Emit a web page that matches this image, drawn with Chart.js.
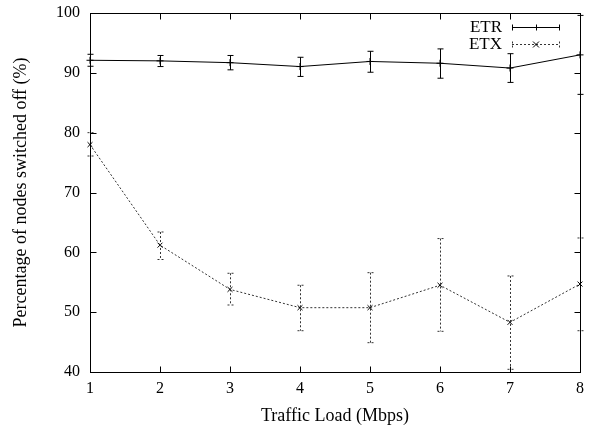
<!DOCTYPE html>
<html>
<head>
<meta charset="utf-8">
<script src="https://cdn.jsdelivr.net/npm/chart.js@4.4.0/dist/chart.umd.min.js"></script>
<style>
  html, body { margin: 0; padding: 0; background: #fff; }
</style>
</head>
<body>
<canvas id="chart" width="589" height="433"></canvas>
<script>
// traffic load (Mbps)
const loads = [1, 2, 3, 4, 5, 6, 7, 8];

// ETR: mean and error bar ends
const etrMean = [92.1, 92.0, 91.7, 91.05, 91.9, 91.6, 90.8, 93.0];
const etrLow  = [91.1, 91.05, 90.5, 89.4, 90.1, 89.1, 88.4, 86.4];
const etrHigh = [93.1, 92.9, 92.9, 92.6, 93.6, 94.0, 93.2, 99.6];

// ETX: mean and error bar ends
const etxMean = [78.0, 61.2, 53.8, 50.75, 50.75, 54.5, 48.3, 54.7];
const etxLow  = [76.1, 58.8, 51.2, 46.9, 44.9, 46.8, 40.45, 46.9];
const etxHigh = [80.0, 63.4, 56.5, 54.5, 56.6, 62.3, 56.05, 62.4];

const yTicks = [40, 50, 60, 70, 80, 90, 100];
const xTicks = loads;

const FONT = "'Liberation Serif', 'DejaVu Serif', serif";
Chart.defaults.font.family = FONT;
Chart.defaults.font.size = 16;
Chart.defaults.color = "#000";

const toPoints = (xs, ys) => xs.map((x, i) => ({ x: x, y: ys[i] }));

// drop the scale's own label padding so the plot box sits where the layout padding says
const noScalePadding = s => {
  s.paddingTop = 0; s.paddingBottom = 0;
  s.paddingLeft = 0; s.paddingRight = 0;
};

// error bars, frame with inward ticks, legend
const gnuplotLook = {
  id: "gnuplotLook",
  afterDatasetsDraw(chart) {
    const ctx = chart.ctx;
    const xs = chart.scales.x, ys = chart.scales.y;
    const area = chart.chartArea;

    chart.data.datasets.forEach(ds => {
      ctx.save();
      ctx.strokeStyle = ds.borderColor;
      ctx.lineWidth = 1;
      ctx.setLineDash(ds.borderDash || []);
      ds.data.forEach((p, i) => {
        const px = Math.round(xs.getPixelForValue(p.x)) + 0.5;
        const top = ys.getPixelForValue(ds.errHigh[i]);
        const bot = ys.getPixelForValue(ds.errLow[i]);
        ctx.beginPath();
        ctx.moveTo(px, top); ctx.lineTo(px, bot);
        ctx.moveTo(px - 3, top); ctx.lineTo(px + 3, top);
        ctx.moveTo(px - 3, bot); ctx.lineTo(px + 3, bot);
        ctx.stroke();
      });
      ctx.restore();
    });

    // frame
    ctx.save();
    ctx.strokeStyle = "#000";
    ctx.lineWidth = 1;
    const L = Math.round(area.left) + 0.5, R = Math.round(area.right) + 0.5;
    const T = Math.round(area.top) + 0.5, B = Math.round(area.bottom) + 0.5;
    ctx.strokeRect(L, T, R - L, B - T);
    ctx.beginPath();
    yTicks.forEach(v => {
      const py = Math.round(ys.getPixelForValue(v)) + 0.5;
      ctx.moveTo(L, py); ctx.lineTo(L + 6, py);
      ctx.moveTo(R, py); ctx.lineTo(R - 6, py);
    });
    xTicks.forEach(v => {
      const px = Math.round(xs.getPixelForValue(v)) + 0.5;
      ctx.moveTo(px, B); ctx.lineTo(px, B - 6);
      ctx.moveTo(px, T); ctx.lineTo(px, T + 6);
    });
    ctx.stroke();
    ctx.restore();

    // legend
    ctx.save();
    ctx.font = "17px " + FONT;
    ctx.fillStyle = "#000";
    ctx.textAlign = "right";
    ctx.textBaseline = "middle";
    const x0 = 512, x1 = 560, xm = 536;
    chart.data.datasets.forEach((ds, k) => {
      const y = 28 + k * 16.5;
      ctx.fillText(ds.label, 502, y);
      const yy = Math.round(y) - 0.5;
      ctx.strokeStyle = ds.borderColor;
      ctx.lineWidth = 1;
      ctx.setLineDash(ds.borderDash || []);
      ctx.beginPath();
      ctx.moveTo(x0, yy); ctx.lineTo(x1, yy);
      ctx.moveTo(x0 + 0.5, yy - 3); ctx.lineTo(x0 + 0.5, yy + 3);
      ctx.moveTo(x1 - 0.5, yy - 3); ctx.lineTo(x1 - 0.5, yy + 3);
      ctx.stroke();
      ctx.setLineDash([]);
      ctx.strokeStyle = "#000";
      ctx.beginPath();
      if (ds.pointStyle === "cross") {
        ctx.moveTo(xm - 3, yy); ctx.lineTo(xm + 3, yy);
        ctx.moveTo(xm + 0.5, yy - 3); ctx.lineTo(xm + 0.5, yy + 3);
      } else {
        ctx.moveTo(xm - 3, yy - 3); ctx.lineTo(xm + 3, yy + 3);
        ctx.moveTo(xm - 3, yy + 3); ctx.lineTo(xm + 3, yy - 3);
      }
      ctx.stroke();
    });
    ctx.restore();
  }
};

new Chart(document.getElementById("chart").getContext("2d"), {
  type: "line",
  data: {
    datasets: [
      {
        label: "ETR",
        data: toPoints(loads, etrMean),
        errLow: etrLow,
        errHigh: etrHigh,
        borderColor: "#000",
        borderWidth: 1,
        pointStyle: "cross",
        pointRadius: 3.5,
        pointBorderColor: "#000",
        pointBorderWidth: 1,
        tension: 0,
        clip: false
      },
      {
        label: "ETX",
        data: toPoints(loads, etxMean),
        errLow: etxLow,
        errHigh: etxHigh,
        borderColor: "#333",
        borderWidth: 1,
        borderDash: [2, 2],
        pointStyle: "crossRot",
        pointRadius: 3.5,
        pointBorderColor: "#000",
        pointBorderWidth: 1,
        tension: 0,
        clip: false
      }
    ]
  },
  options: {
    responsive: false,
    animation: false,
    events: [],
    layout: { padding: { top: 13, right: 9, left: 0, bottom: 0 } },
    plugins: {
      legend: { display: false },
      tooltip: { enabled: false }
    },
    scales: {
      x: {
        type: "linear",
        min: 1,
        max: 8,
        afterFit: s => { s.height = 61; noScalePadding(s); },
        grid: { display: false, drawTicks: false },
        border: { display: false },
        ticks: { stepSize: 1, padding: 7, maxRotation: 0 },
        title: {
          display: true,
          text: "Traffic Load (Mbps)",
          font: { size: 18 },
          padding: { top: 0, bottom: 6 }
        }
      },
      y: {
        min: 40,
        max: 100,
        afterFit: s => { s.width = 90; noScalePadding(s); },
        grid: { display: false, drawTicks: false },
        border: { display: false },
        ticks: { stepSize: 10, padding: 10 },
        title: {
          display: true,
          text: "Percentage of nodes switched off (%)",
          font: { size: 18 },
          padding: { top: 10, bottom: 0 }
        }
      }
    }
  },
  plugins: [gnuplotLook]
});
</script>
</body>
</html>
